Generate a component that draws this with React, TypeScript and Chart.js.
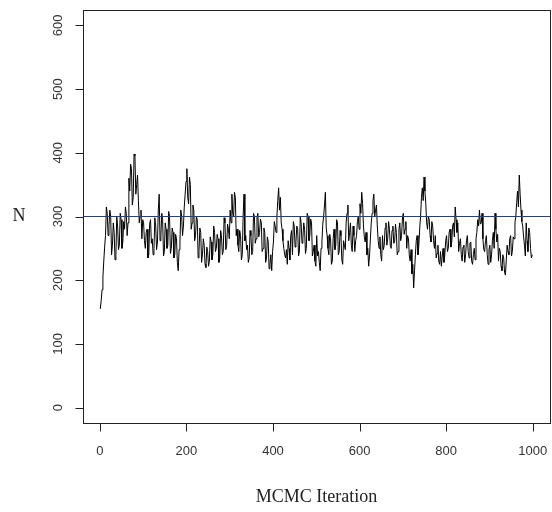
import React, { useEffect, useRef } from "react";
import { Chart, registerables } from "chart.js";

Chart.register(...registerables);

// MCMC trace values of N, read every 2nd iteration (1, 3, 5, ... 999)
const traceValues: number[] = [
  155, 168, 185, 205, 230, 252, 270, 315, 305, 270, 285, 310, 300, 240, 255, 290, 275, 232, 240, 300, 285, 248, 255, 305, 295,
  250, 260, 292, 280, 315, 305, 270, 290, 360, 340, 382, 375, 318, 330, 398, 395, 335, 350, 365, 325, 290, 300, 310, 265, 295,
  290, 262, 250, 275, 280, 235, 240, 288, 295, 258, 265, 240, 250, 298, 285, 248, 260, 310, 335, 262, 270, 305, 295, 238, 245,
  290, 280, 250, 255, 308, 300, 242, 250, 282, 275, 235, 240, 272, 265, 228, 215, 248, 260, 310, 300, 270, 285, 315, 335, 355,
  375, 330, 320, 362, 350, 280, 290, 318, 310, 262, 270, 300, 295, 235, 245, 282, 275, 228, 240, 265, 255, 225, 220, 252, 245,
  222, 230, 268, 260, 232, 240, 285, 275, 245, 250, 272, 265, 228, 235, 278, 270, 240, 245, 298, 290, 248, 255, 288, 280, 265,
  310, 290, 335, 305, 300, 338, 330, 270, 280, 255, 245, 278, 270, 232, 240, 300, 335, 262, 270, 248, 255, 228, 235, 278, 270,
  240, 245, 305, 300, 258, 265, 298, 305, 268, 275, 296, 290, 245, 250, 282, 275, 228, 235, 268, 260, 218, 225, 240, 215, 245,
  260, 292, 285, 275, 300, 325, 345, 310, 330, 290, 280, 262, 250, 240, 235, 248, 225, 262, 250, 232, 270, 278, 240, 292, 285,
  252, 260, 285, 280, 238, 245, 300, 290, 258, 265, 290, 280, 242, 250, 305, 300, 262, 270, 296, 290, 238, 245, 255, 230, 222,
  270, 238, 245, 228, 215, 250, 260, 288, 300, 318, 338, 282, 270, 250, 240, 272, 265, 225, 230, 265, 280, 248, 255, 295, 290,
  240, 245, 278, 270, 232, 225, 262, 255, 248, 290, 305, 318, 262, 275, 290, 255, 245, 285, 270, 245, 262, 270, 292, 300, 280,
  320, 305, 338, 320, 285, 268, 260, 275, 240, 250, 222, 238, 265, 290, 305, 325, 335, 300, 310, 318, 285, 262, 250, 268, 240,
  230, 270, 248, 255, 282, 290, 255, 265, 292, 280, 255, 250, 278, 285, 258, 260, 288, 275, 240, 245, 280, 290, 262, 270, 296,
  305, 272, 280, 292, 250, 270, 265, 238, 230, 248, 210, 225, 188, 215, 240, 262, 270, 240, 255, 282, 300, 330, 345, 325, 362,
  340, 320, 290, 280, 300, 295, 270, 260, 292, 285, 262, 250, 270, 235, 242, 255, 230, 225, 245, 222, 238, 250, 228, 240, 262,
  270, 245, 250, 275, 280, 252, 260, 285, 290, 268, 315, 295, 275, 290, 245, 258, 265, 240, 230, 252, 255, 228, 240, 262, 270,
  245, 235, 258, 260, 230, 225, 240, 250, 232, 265, 275, 295, 285, 310, 288, 290, 305, 265, 248, 245, 262, 270, 240, 225, 248,
  255, 228, 240, 262, 275, 250, 305, 280, 260, 272, 230, 250, 245, 222, 215, 240, 235, 212, 208, 232, 255, 245, 240, 265, 270,
  238, 245, 268, 265, 290, 300, 322, 340, 315, 365, 335, 310, 292, 285, 268, 255, 238, 290, 262, 245, 282, 275, 250, 235, 240,
];
const firstIteration = 1;
const iterationStep = 2;
const traceIterations: number[] = traceValues.map((_, i) => firstIteration + i * iterationStep);

const referenceValue = 300;
const xTicks: number[] = [0, 200, 400, 600, 800, 1000];
const yTicks: number[] = [0, 100, 200, 300, 400, 500, 600];
const xRange: [number, number] = [-39, 1040];
const yRange: [number, number] = [-24, 624];
const xTitle = "MCMC Iteration";
const yTitle = "N";

const framePlugin = {
  id: "rFrame",
  beforeDraw(chart: any) {
    const { ctx, width, height } = chart;
    ctx.save();
    ctx.fillStyle = "#ffffff";
    ctx.fillRect(0, 0, width, height);
    ctx.restore();
  },
  afterDraw(chart: any) {
    const { ctx, chartArea: a, scales } = chart;
    const xs = scales.x;
    const ys = scales.y;
    ctx.save();
    ctx.strokeStyle = "#222";
    ctx.lineWidth = 1;
    const L = Math.round(a.left) + 0.5;
    const T = Math.round(a.top) + 0.5;
    const R = Math.round(a.right) + 0.5;
    const B = Math.round(a.bottom) + 0.5;
    ctx.strokeRect(L, T, R - L, B - T);

    const tickLen = 8;
    ctx.fillStyle = "#333";
    ctx.font = "13px 'Liberation Sans', Arial, sans-serif";
    ctx.beginPath();
    for (const v of xTicks) {
      const px = Math.round(xs.getPixelForValue(v)) + 0.5;
      ctx.moveTo(px, B);
      ctx.lineTo(px, B + tickLen);
    }
    ctx.stroke();
    ctx.textAlign = "center";
    ctx.textBaseline = "middle";
    for (const v of xTicks) {
      ctx.fillText(String(v), xs.getPixelForValue(v), B + 28);
    }
    ctx.beginPath();
    for (const v of yTicks) {
      const py = Math.round(ys.getPixelForValue(v)) + 0.5;
      ctx.moveTo(L, py);
      ctx.lineTo(L - tickLen, py);
    }
    ctx.stroke();
    for (const v of yTicks) {
      const py = ys.getPixelForValue(v);
      ctx.save();
      ctx.translate(L - 25, py);
      ctx.rotate(-Math.PI / 2);
      ctx.textAlign = "center";
      ctx.textBaseline = "middle";
      ctx.fillText(String(v), 0, 0);
      ctx.restore();
    }
    ctx.fillStyle = "#222";
    ctx.font = "18px 'Liberation Serif', 'DejaVu Serif', serif";
    ctx.textAlign = "center";
    ctx.textBaseline = "middle";
    ctx.fillText(xTitle, (a.left + a.right) / 2, B + 74);
    ctx.fillText(yTitle, 19, ys.getPixelForValue(referenceValue));
    ctx.restore();
  },
};

export default function App() {
  const canvasRef = useRef<HTMLCanvasElement | null>(null);

  useEffect(() => {
    const canvas = canvasRef.current;
    if (!canvas) return;
    const chart = new Chart(canvas, {
      type: "line",
      data: {
        datasets: [
          {
            label: "reference",
            data: [
              { x: xRange[0], y: referenceValue },
              { x: xRange[1], y: referenceValue },
            ],
            borderColor: "#2a3f6e",
            borderWidth: 1.2,
            pointRadius: 0,
            fill: false,
          },
          {
            label: "N",
            data: traceIterations.map((it, i) => ({ x: it, y: traceValues[i] })),
            borderColor: "#000000",
            borderWidth: 1,
            pointRadius: 0,
            tension: 0,
            fill: false,
          },
        ],
      },
      options: {
        responsive: false,
        animation: false,
        devicePixelRatio: 1,
        layout: { padding: { left: 83, right: 2, top: 10, bottom: 89 } },
        plugins: {
          legend: { display: false },
          tooltip: { enabled: false },
        },
        scales: {
          x: { type: "linear", min: xRange[0], max: xRange[1], display: false },
          y: { type: "linear", min: yRange[0], max: yRange[1], display: false },
        },
      },
      plugins: [framePlugin],
    });
    return () => chart.destroy();
  }, []);

  return (
    <div style={{ position: "absolute", left: 0, top: 0, width: 552, height: 512, background: "#fff" }}>
      <canvas ref={canvasRef} width={552} height={512} />
    </div>
  );
}
